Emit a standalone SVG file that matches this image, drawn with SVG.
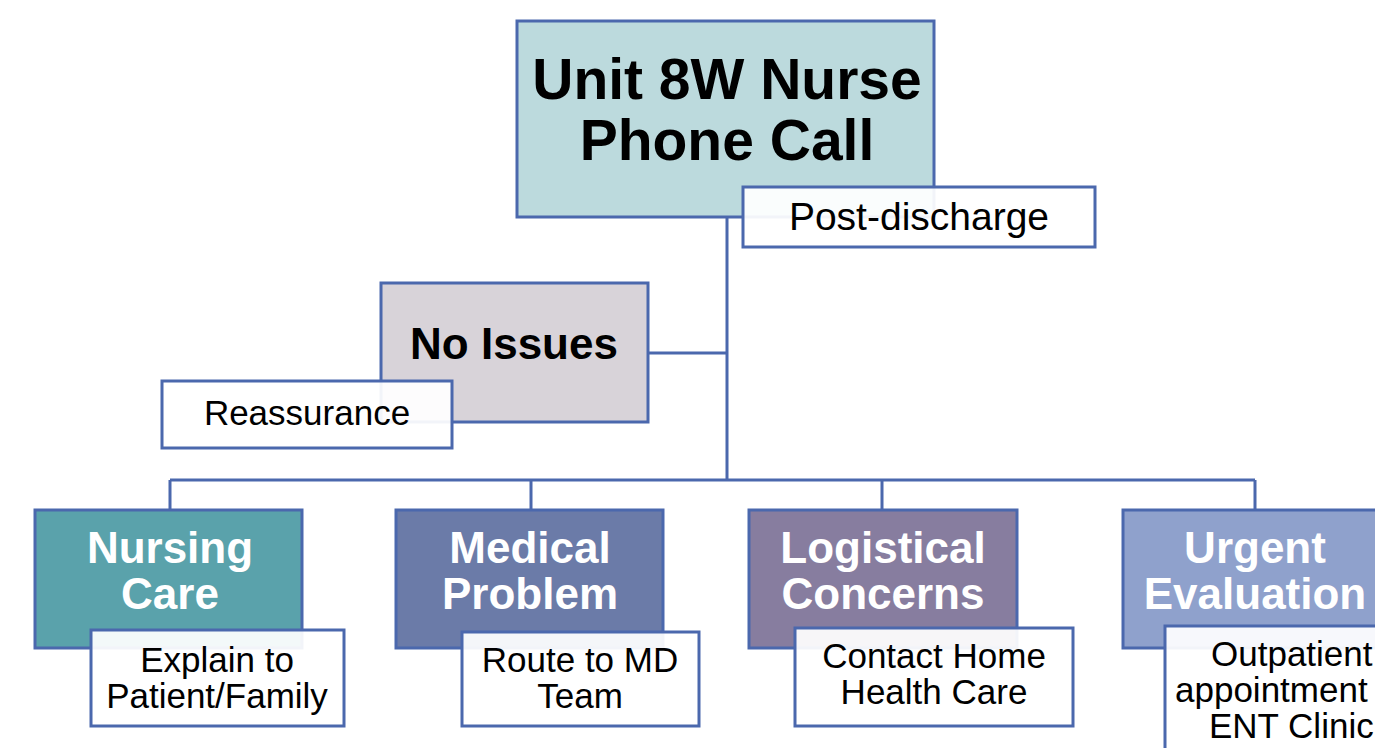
<svg xmlns="http://www.w3.org/2000/svg" width="1375" height="748" viewBox="0 0 1375 748">
<style>
.box{stroke:#4b68ad;stroke-width:3}
.sub{fill:#ffffff;fill-opacity:0.93;stroke:#4b68ad;stroke-width:3}
.conn{fill:none;stroke:#4b68ad;stroke-width:3}
text{font-family:"Liberation Sans",Arial,sans-serif;text-anchor:middle}
.hd{font-weight:bold;fill:#000}
.wh{font-weight:bold;fill:#fff;font-size:44px}
.st{fill:#000;font-size:35px}
</style>
<rect width="1375" height="748" fill="#fff"/>
<g id="connectors">
<path class="conn" d="M727 217 V480 M648 353 H727 M170 480 H1255 M170 480 V510 M531 480 V510 M882 480 V510 M1255 480 V510"/>
</g>
<g id="root">
<rect class="box" x="517" y="21" width="417" height="196" fill="#bcdadd"/>
<text class="hd" x="727" y="99" font-size="57">Unit 8W Nurse</text>
<text class="hd" x="727" y="160" font-size="57">Phone Call</text>
</g>
<g id="post-discharge">
<rect class="sub" x="743" y="187" width="352" height="60"/>
<text class="st" x="919" y="230" style="font-size:39px">Post-discharge</text>
</g>
<g id="no-issues">
<rect class="box" x="381" y="283" width="267" height="139" fill="#d8d3d9"/>
<text class="hd" x="514" y="359" font-size="44">No Issues</text>
</g>
<g id="reassurance">
<rect class="sub" x="162" y="381" width="290" height="67"/>
<text class="st" x="307" y="425">Reassurance</text>
</g>
<g id="nursing-care">
<rect class="box" x="35" y="510" width="267" height="138" fill="#5aa2ab"/>
<text class="wh" x="170" y="563">Nursing</text>
<text class="wh" x="170" y="609">Care</text>
</g>
<g id="explain">
<rect class="sub" x="91" y="630" width="253" height="96"/>
<text class="st" x="217" y="672">Explain to</text>
<text class="st" x="217" y="708">Patient/Family</text>
</g>
<g id="medical-problem">
<rect class="box" x="396" y="510" width="267" height="138" fill="#6b7ba8"/>
<text class="wh" x="530" y="563">Medical</text>
<text class="wh" x="530" y="609">Problem</text>
</g>
<g id="route">
<rect class="sub" x="462" y="632" width="237" height="94"/>
<text class="st" x="580" y="672">Route to MD</text>
<text class="st" x="580" y="708">Team</text>
</g>
<g id="logistical-concerns">
<rect class="box" x="749" y="510" width="268" height="138" fill="#877d9f"/>
<text class="wh" x="883" y="563">Logistical</text>
<text class="wh" x="883" y="609">Concerns</text>
</g>
<g id="contact">
<rect class="sub" x="795" y="628" width="278" height="98"/>
<text class="st" x="934" y="668">Contact Home</text>
<text class="st" x="934" y="704">Health Care</text>
</g>
<g id="urgent-evaluation">
<rect class="box" x="1123" y="510" width="270" height="138" fill="#8fa1cc"/>
<text class="wh" x="1255" y="563">Urgent</text>
<text class="wh" x="1255" y="609">Evaluation</text>
</g>
<g id="outpatient">
<rect class="sub" x="1165" y="626" width="270" height="130"/>
<text class="st" x="1211" y="666" style="text-anchor:start">Outpatient</text>
<text class="st" x="1175" y="702" style="text-anchor:start">appointment</text>
<text class="st" x="1209" y="738" style="text-anchor:start">ENT Clinic</text>
</g>
</svg>
